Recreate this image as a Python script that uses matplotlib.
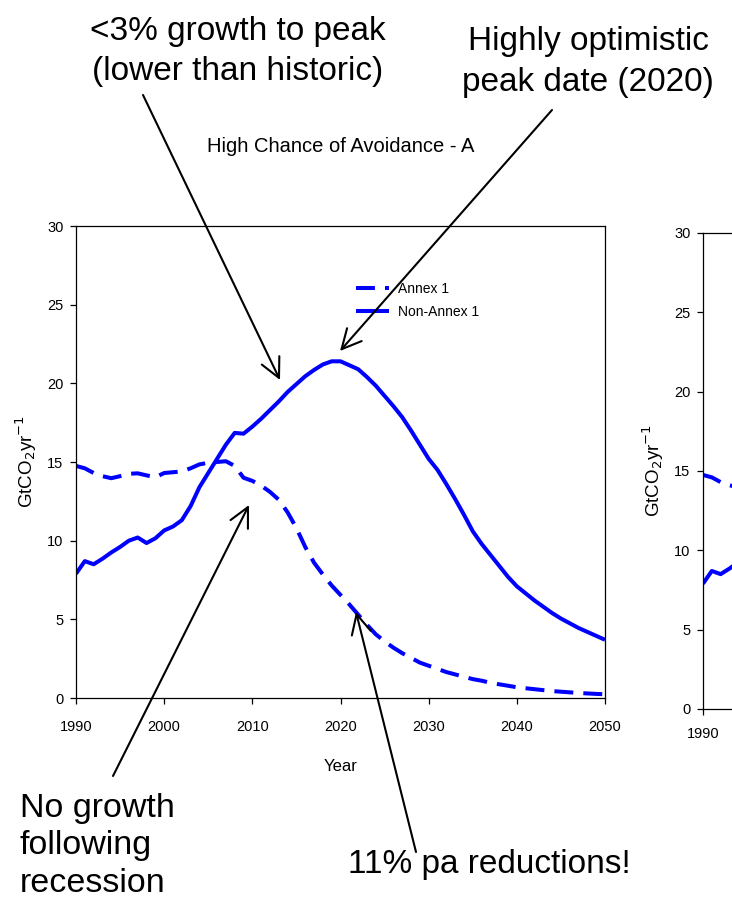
import matplotlib
matplotlib.use("Agg")
import matplotlib.pyplot as plt
from matplotlib.patches import FancyArrowPatch

plt.rcParams['font.family'] = ['Liberation Sans', 'DejaVu Sans']

years = list(range(1990, 2051))
annex1 = [14.75, 14.6, 14.3, 14.1, 13.97, 14.1, 14.25, 14.28, 14.15, 14.03,
          14.3, 14.35, 14.4, 14.6, 14.85, 14.95, 15.0, 15.05, 14.75, 14.0,
          13.8, 13.5, 13.1, 12.6, 11.8, 10.8, 9.6, 8.6, 7.85, 7.15,
          6.55, 5.95, 5.3, 4.65, 4.05, 3.6, 3.2, 2.85, 2.55, 2.25,
          2.05, 1.85, 1.65, 1.5, 1.35, 1.2, 1.1, 0.97, 0.87, 0.78,
          0.68, 0.62, 0.56, 0.5, 0.44, 0.4, 0.36, 0.32, 0.29, 0.26, 0.24]
non_annex1 = [7.9, 8.7, 8.5, 8.85, 9.25, 9.6, 10.0, 10.2, 9.85, 10.15,
              10.65, 10.9, 11.3, 12.2, 13.4, 14.3, 15.2, 16.1, 16.85, 16.8,
              17.25, 17.75, 18.3, 18.85, 19.45, 19.95, 20.45, 20.85, 21.2, 21.4,
              21.4, 21.15, 20.9, 20.4, 19.85, 19.2, 18.55, 17.85, 17.0, 16.1,
              15.2, 14.5, 13.6, 12.65, 11.65, 10.6, 9.8, 9.1, 8.4, 7.7,
              7.1, 6.65, 6.2, 5.8, 5.4, 5.05, 4.75, 4.45, 4.2, 3.95, 3.7]
labels = ["Annex 1", "Non-Annex 1"]
xticks = [1990, 2000, 2010, 2020, 2030, 2040, 2050]
yticks = [0, 5, 10, 15, 20, 25, 30]

W, H = 732, 898
fig = plt.figure(figsize=(W / 100, H / 100), dpi=100)

def fx(x):
    return x / W

def fy(y):
    return 1 - y / H

BLUE = '#0000FF'
LW = 2.9


def make_axes(left, top, right, bottom, xpad, legend=False):
    ax = fig.add_axes([fx(left), fy(bottom), fx(right) - fx(left), fy(top) - fy(bottom)])
    ax.plot(years, annex1, color=BLUE, lw=LW, dashes=(4.7, 2.5), label=labels[0],
            solid_joinstyle='round')
    ax.plot(years, non_annex1, color=BLUE, lw=LW, label=labels[1],
            solid_joinstyle='round', solid_capstyle='butt')
    ax.set_xlim(1990, 2050)
    ax.set_ylim(0, 30)
    ax.set_xticks(xticks)
    ax.set_yticks(yticks)
    ax.tick_params(direction='out', length=4, width=0.9, labelsize=10.5, pad=5)
    ax.tick_params(axis='x', pad=xpad)
    for s in ax.spines.values():
        s.set_linewidth(0.9)
    ax.set_ylabel(r'GtCO$_2$yr$^{-1}$', fontsize=13.5, labelpad=6)
    if legend:
        ax.legend(loc='upper left',
                  bbox_to_anchor=((356 - left) / (right - left), (bottom - 282) / (bottom - top)),
                  frameon=False, fontsize=10, handlelength=2.4, handletextpad=0.65,
                  labelspacing=0.65, borderpad=0, borderaxespad=0)
    return ax

ax1 = make_axes(76, 226, 605, 698, xpad=12, legend=True)
ax1.set_xlabel('Year', fontsize=12, labelpad=18)
ax1.text(0.5, 1.0 + (226 - 146) / 472, 'High Chance of Avoidance - A', transform=ax1.transAxes,
         ha='center', va='center', fontsize=14.5)

ax2 = make_axes(703, 233, 703 + 529, 709, xpad=9)
ax2.set_xticklabels(['1990'] + [''] * (len(xticks) - 1))

# Large annotation texts
fig.text(fx(238), fy(16), '<3% growth to peak\n(lower than historic)', ha='center', va='top',
         fontsize=24, linespacing=1.36)
fig.text(fx(588), fy(26), 'Highly optimistic\npeak date (2020)', ha='center', va='top',
         fontsize=24, linespacing=1.42)
fig.text(fx(20), fy(793), 'No growth\nfollowing\nrecession', ha='left', va='top',
         fontsize=24.5, linespacing=1.27)
fig.text(fx(489), fy(864), '11% pa reductions!', ha='center', va='center', fontsize=24)

# Arrows
arrows = [((143, 95), (280, 380)),
          ((552, 110), (340, 351)),
          ((113, 776), (249, 505)),
          ((416, 852), (356, 612))]
for (x0, y0), (x1, y1) in arrows:
    a = FancyArrowPatch((fx(x0), fy(y0)), (fx(x1), fy(y1)), transform=fig.transFigure,
                        arrowstyle='->,head_length=0.7,head_width=0.35', mutation_scale=20,
                        lw=1.5, color='black', shrinkA=0, shrinkB=0, zorder=5)
    fig.add_artist(a)

fig.savefig('out.png', dpi=100)
